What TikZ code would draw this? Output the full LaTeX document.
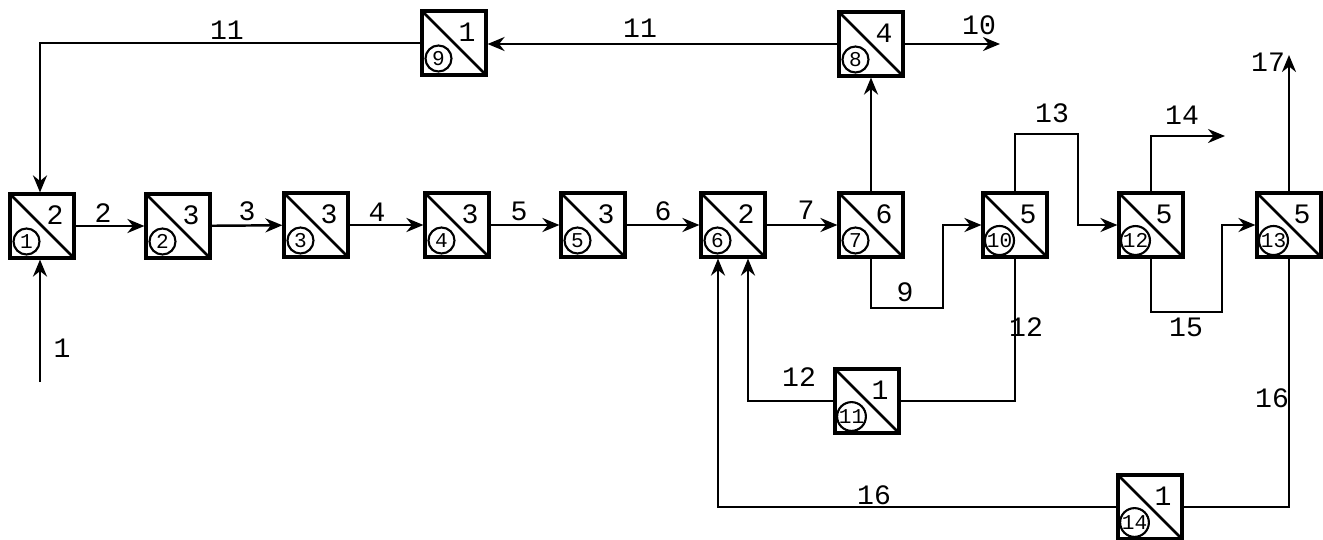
\documentclass[tikz,border=0pt]{standalone}
\usepackage{fontspec}
\setmonofont{Liberation Mono}
\usetikzlibrary{positioning, arrows.meta, calc}

\begin{document}
\begin{tikzpicture}[
  x=0.02cm, y=-0.02cm,
  font=\ttfamily\fontsize{16}{16}\selectfont,
  ubox/.style 2 args={draw, line width=1.8pt, minimum size=1.28cm, inner sep=0pt,
    path picture={
      \draw[line width=1.5pt] (path picture bounding box.north west) -- (path picture bounding box.south east);
      \node at ([xshift=-0.38cm, yshift=-0.42cm]path picture bounding box.north east) {#1};
      \node[circle, draw, line width=1.2pt, inner sep=0pt, minimum size=0.52cm,
            font=\ttfamily\fontsize{12}{12}\selectfont]
        at ([xshift=0.33cm, yshift=0.33cm]path picture bounding box.south west) {#2};
    }},
  flow/.style={-{Stealth[length=3.4mm, width=2.8mm]}, line width=1.4pt},
  pipe/.style={line width=1.4pt},
  lbl/.style={inner sep=1pt},
]
\useasboundingbox (0,0) rectangle (1323,539);

% units
\node[ubox={2}{1}]  (u1)  at (42,226)  {};
\node[ubox={3}{2}]  (u2)  at (178,226) {};
\node[ubox={3}{3}]  (u3)  at (316,225) {};
\node[ubox={3}{4}]  (u4)  at (457,225) {};
\node[ubox={3}{5}]  (u5)  at (593,225) {};
\node[ubox={2}{6}]  (u6)  at (733,225) {};
\node[ubox={6}{7}]  (u7)  at (871,225) {};
\node[ubox={4}{8}]  (u8)  at (871,44)  {};
\node[ubox={1}{9}]  (u9)  at (454,43)  {};
\node[ubox={5}{10}] (u10) at (1015,225) {};
\node[ubox={1}{11}] (u11) at (867,401) {};
\node[ubox={5}{12}] (u12) at (1151,225) {};
\node[ubox={5}{13}] (u13) at (1289,225) {};
\node[ubox={1}{14}] (u14) at (1150,507) {};

% free ends and bends
\coordinate (in1)   at (40,382);
\coordinate (out10) at (1000,44);
\coordinate (b9)    at (943,308);
\coordinate (t13)   at (1078,134);
\coordinate (out14) at (1225,136);
\coordinate (b15)   at (1222,312);
\coordinate (out17) at (1289,55);

% main line
\draw[flow] (in1) -- (in1 |- u1.south);
\draw[flow] (u1) -- (u2);
\draw[flow] (u2) -- (u3);
\draw[flow] (u3) -- (u4);
\draw[flow] (u4) -- (u5);
\draw[flow] (u5) -- (u6);
\draw[flow] (u6) -- (u7);

% top recycle
\draw[flow] (u7.north) -- (u8.south);
\draw[flow] (u8.west) -- (u8.west -| u9.east);
\draw[flow] (u9.west) -| ([xshift=-0.04cm]u1.north);
\draw[flow] (u8.east) -- (out10);

% right side
\draw[flow] (u7.south) |- (b9) |- (u10.west);
\draw[flow] (u10.north) |- (t13) |- (u12.west);
\draw[flow] (u12.north) |- (out14);
\draw[flow] (u12.south) |- (b15) |- (u13.west);
\draw[flow] (u13.north) -- (out17);

% bottom recycles
\draw[pipe] (u10.south) |- (u11.east);
\draw[flow] (u11.west) -| ([xshift=0.3cm]u6.south);
\draw[pipe] (u13.south) |- (u14.east);
\draw[flow] (u14.west) -| ([xshift=-0.3cm]u6.south);

% stream numbers
\node[lbl] (l1)  at (62,348)   {1};
\node[lbl] (l2)  at (103,213)  {2};
\node[lbl] (l3)  at (247,211)  {3};
\node[lbl] (l4)  at (377,212)  {4};
\node[lbl] (l5)  at (519,211)  {5};
\node[lbl] (l6)  at (663,211)  {6};
\node[lbl] (l7)  at (806,210)  {7};
\node[lbl] (l11a) at (227,30)  {11};
\node[lbl] (l11b) at (640,28)  {11};
\node[lbl] (l10) at (979,25)   {10};
\node[lbl] (l9)  at (905,292)  {9};
\node[lbl] (l13) at (1052,113) {13};
\node[lbl] (l14) at (1182,115) {14};
\node[lbl] (l17) at (1268,62)  {17};
\node[lbl] (l15) at (1186,327) {15};
\node[lbl] (l12a) at (1026,327) {12};
\node[lbl] (l12b) at (799,377) {12};
\node[lbl] (l16a) at (874,495) {16};
\node[lbl] (l16b) at (1272,398) {16};

\end{tikzpicture}
\end{document}
